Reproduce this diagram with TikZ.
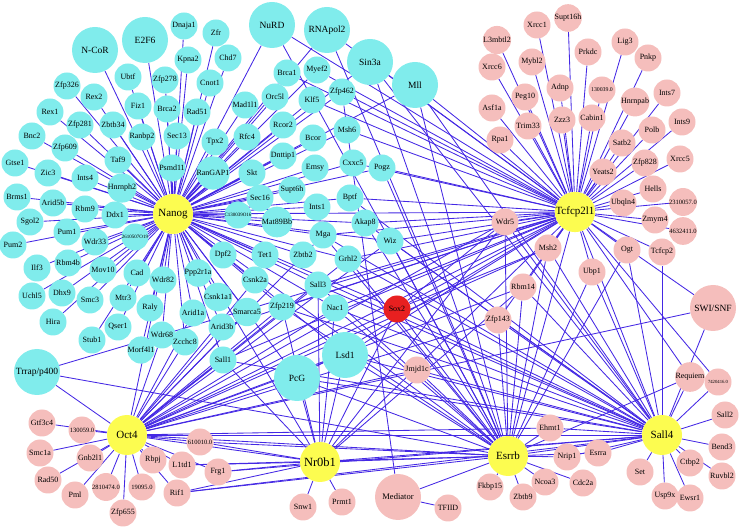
\documentclass[tikz,border=0pt]{standalone}
\usepackage{fontspec}
\setmainfont{Liberation Serif}
\usepackage{tikz}
\usetikzlibrary{backgrounds}

\definecolor{nfill}{RGB}{128,236,236}
\definecolor{pfill}{RGB}{245,190,188}
\definecolor{hfill}{RGB}{252,252,80}
\definecolor{sfill}{RGB}{232,32,32}
\definecolor{edgeblue}{RGB}{68,40,228}

\begin{document}
\begin{tikzpicture}[x=1pt,y=-1pt,
	prot/.style={circle,inner sep=0pt,minimum size=27pt,font=\fontsize{8}{9}\selectfont},
	np/.style={prot,fill=nfill},
	pp/.style={prot,fill=pfill},
	cplx/.style={minimum size=46pt,font=\fontsize{9.5}{10}\selectfont},
	tiny/.style={font=\fontsize{6.5}{7}\selectfont},
	hub/.style={circle,inner sep=0pt,minimum size=40pt,fill=hfill,font=\fontsize{11}{12}\selectfont},
	every edge/.style={draw=edgeblue,line width=0.85pt}]
	\useasboundingbox (0,0) rectangle (740,529);
	% hubs
	\node[hub] (nanog) at (173,214) {Nanog};
	\node[hub] (tcfcp2l1) at (575,212) {Tcfcp2l1};
	\node[hub] (oct4) at (127,435) {Oct4};
	\node[hub,font=\fontsize{12.5}{13}\selectfont] (nr0b1) at (320,462) {Nr0b1};
	\node[hub] (esrrb) at (508,456) {Esrrb};
	\node[hub] (sall4) at (662,435) {Sall4};
	\node[prot,fill=sfill] (sox2) at (397,309) {Sox2};
	% nanog partners
	\node[np,cplx] (ncor) at (95,50) {N-CoR};
	\node[np,cplx] (e2f6) at (145,40) {E2F6};
	\node[np] (dnaja1) at (184,26) {Dnaja1};
	\node[np] (kpna2) at (188,60) {Kpna2};
	\node[np] (zfr) at (216,33) {Zfr};
	\node[np] (chd7) at (228,58) {Chd7};
	\node[np,cplx] (nurd) at (272,25) {NuRD};
	\node[np,cplx] (rnapol2) at (327,30) {RNApol2};
	\node[np,cplx] (sin3a) at (370,62) {Sin3a};
	\node[np,cplx] (mll) at (415,85) {Mll};
	\node[np] (ubtf) at (128,77) {Ubtf};
	\node[np] (zfp278) at (165,80) {Zfp278};
	\node[np] (zfp326) at (67,86) {Zfp326};
	\node[np] (rex2) at (94,97) {Rex2};
	\node[np] (fiz1) at (138,106) {Fiz1};
	\node[np] (brca2) at (167,109) {Brca2};
	\node[np] (rex1) at (50,112) {Rex1};
	\node[np] (zfp281) at (80,125) {Zfp281};
	\node[np] (zbtb34) at (113,125) {Zbtb34};
	\node[np] (ranbp2) at (142,137) {Ranbp2};
	\node[np] (sec13) at (177,136) {Sec13};
	\node[np] (bnc2) at (32,136) {Bnc2};
	\node[np] (zfp609) at (65,148) {Zfp609};
	\node[np] (taf9) at (118,160) {Taf9};
	\node[np] (psmd11) at (172,168) {Psmd11};
	\node[np] (gtse1) at (15,163) {Gtse1};
	\node[np] (zic3) at (48,173) {Zic3};
	\node[np] (ints4) at (85,178) {Ints4};
	\node[np] (cnot1) at (210,83) {Cnot1};
	\node[np] (rad51) at (197,112) {Rad51};
	\node[np] (brca1) at (287,73) {Brca1};
	\node[np] (myef2) at (317,70) {Myef2};
	\node[np] (zfp462) at (342,92) {Zfp462};
	\node[np] (orc5l) at (275,97) {Orc5l};
	\node[np] (klf5) at (312,100) {Klf5};
	\node[np] (mad1l1) at (245,105) {Mad1l1};
	\node[np] (rcor2) at (283,125) {Rcor2};
	\node[np] (msh6) at (347,130) {Msh6};
	\node[np] (tpx2) at (215,142) {Tpx2};
	\node[np] (rfc4) at (247,137) {Rfc4};
	\node[np] (bcor) at (313,138) {Bcor};
	\node[np] (dnttip1) at (283,156) {Dnttip1};
	\node[np] (emsy) at (315,168) {Emsy};
	\node[np] (cxxc5) at (353,163) {Cxxc5};
	\node[np] (rangap1) at (213,173) {RanGAP1};
	\node[np] (skt) at (252,173) {Skt};
	\node[np] (pogz) at (382,168) {Pogz};
	\node[np] (hnrnph2) at (122,188) {Hnrnph2};
	\node[np] (brms1) at (17,197) {Brms1};
	\node[np] (arid5b) at (53,203) {Arid5b};
	\node[np] (rbm9) at (85,209) {Rbm9};
	\node[np] (ddx1) at (115,215) {Ddx1};
	\node[np] (sgol2) at (30,222) {Sgol2};
	\node[np] (pum1) at (67,232) {Pum1};
	\node[np] (wdr33) at (95,242) {Wdr33};
	\node[np,tiny,font=\fontsize{5}{6}\selectfont] (g2610) at (135,237) {2610507O19};
	\node[np] (pum2) at (13,245) {Pum2};
	\node[np] (ilf3) at (37,268) {Ilf3};
	\node[np] (rbm4b) at (68,263) {Rbm4b};
	\node[np] (mov10) at (103,270) {Mov10};
	\node[np] (cad) at (137,273) {Cad};
	\node[np] (wdr82) at (163,280) {Wdr82};
	\node[np] (uchl5) at (32,296) {Uchl5};
	\node[np] (dhx9) at (62,293) {Dhx9};
	\node[np] (smc3) at (90,300) {Smc3};
	\node[np] (mtr3) at (123,298) {Mtr3};
	\node[np] (raly) at (150,308) {Raly};
	\node[np] (hira) at (53,322) {Hira};
	\node[np] (qser1) at (118,327) {Qser1};
	\node[np] (stub1) at (92,340) {Stub1};
	\node[np] (wdr68) at (162,335) {Wdr68};
	\node[np] (morf4l1) at (141,350) {Morf4l1};
	\node[np] (zcchc8) at (185,342) {Zcchc8};
	\node[np] (supt6h) at (292,190) {Supt6h};
	\node[np] (sec16) at (260,198) {Sec16};
	\node[np] (ints1) at (317,207) {Ints1};
	\node[np] (bptf) at (350,198) {Bptf};
	\node[np,font=\fontsize{5}{6}\selectfont] (c1300) at (238,215) {C130039O16};
	\node[np] (mat89bb) at (277,222) {Mat89Bb};
	\node[np] (mga) at (323,235) {Mga};
	\node[np] (akap8) at (365,223) {Akap8};
	\node[np] (wiz) at (390,241) {Wiz};
	\node[np] (dpf2) at (223,255) {Dpf2};
	\node[np] (tet1) at (265,255) {Tet1};
	\node[np] (zbtb2) at (303,255) {Zbtb2};
	\node[np] (grhl2) at (348,259) {Grhl2};
	\node[np] (ppp2r1a) at (198,273) {Ppp2r1a};
	\node[np] (csnk2a) at (255,280) {Csnk2a};
	\node[np] (sall3) at (318,285) {Sall3};
	\node[np] (csnk1a1) at (218,297) {Csnk1a1};
	\node[np] (arid1a) at (193,313) {Arid1a};
	\node[np] (smarca5) at (247,312) {Smarca5};
	\node[np] (zfp219) at (282,307) {Zfp219};
	\node[np] (nac1) at (335,308) {Nac1};
	\node[np] (arid3b) at (222,327) {Arid3b};
	\node[np] (sall1) at (223,360) {Sall1};
	\node[np,cplx] (pcg) at (297,378) {PcG};
	\node[np,cplx] (lsd1) at (345,355) {Lsd1};
	\node[np,cplx] (trrap) at (37,372) {Trrap/p400};
	% tcfcp2l1 partners
	\node[pp] (xrcc1) at (537,25) {Xrcc1};
	\node[pp] (supt16h) at (568,18) {Supt16h};
	\node[pp] (l3mbtl2) at (497,40) {L3mbtl2};
	\node[pp] (mybl2) at (532,62) {Mybl2};
	\node[pp] (xrcc6) at (492,67) {Xrcc6};
	\node[pp] (peg10) at (525,97) {Peg10};
	\node[pp] (asf1a) at (492,108) {Asf1a};
	\node[pp] (trim33) at (528,126) {Trim33};
	\node[pp] (rpa1) at (500,140) {Rpa1};
	\node[pp] (lig3) at (625,42) {Lig3};
	\node[pp] (prkdc) at (588,52) {Prkdc};
	\node[pp] (pnkp) at (648,58) {Pnkp};
	\node[pp] (adnp) at (560,88) {Adnp};
	\node[pp,font=\fontsize{5.8}{6}\selectfont] (g130039) at (602,90) {130039.0};
	\node[pp] (ints7) at (667,93) {Ints7};
	\node[pp] (hnrnpab) at (635,102) {Hnrnpab};
	\node[pp] (zzz3) at (562,120) {Zzz3};
	\node[pp] (cabin1) at (592,118) {Cabin1};
	\node[pp] (ints9) at (682,122) {Ints9};
	\node[pp] (polb) at (652,130) {Polb};
	\node[pp] (satb2) at (622,143) {Satb2};
	\node[pp] (xrcc5) at (680,159) {Xrcc5};
	\node[pp] (zfp828) at (645,163) {Zfp828};
	\node[pp] (yeats2) at (603,172) {Yeats2};
	\node[pp] (hells) at (653,189) {Hells};
	\node[pp] (ubqln4) at (623,203) {Ubqln4};
	\node[pp,tiny] (g2310057) at (683,202) {2310057.0};
	\node[pp] (zmym4) at (655,220) {Zmym4};
	\node[pp,tiny] (g4632411) at (683,231) {4632411.0};
	\node[pp] (ogt) at (627,250) {Ogt};
	\node[pp] (tcfcp2) at (662,252) {Tcfcp2};
	\node[pp] (ubp1) at (592,272) {Ubp1};
	\node[pp] (msh2) at (548,248) {Msh2};
	\node[pp] (wdr5) at (505,222) {Wdr5};
	\node[pp] (rbm14) at (523,287) {Rbm14};
	\node[pp] (zfp143) at (498,320) {Zfp143};
	\node[pp,cplx] (swisnf) at (713,308) {SWI/SNF};
	% esrrb, sall4, nr0b1 partners
	\node[pp] (jmjd1c) at (417,370) {Jmjd1c};
	\node[pp,cplx,font=\fontsize{8.5}{9}\selectfont] (mediator) at (398,497) {Mediator};
	\node[pp] (tfiid) at (448,508) {TFIID};
	\node[pp] (fkbp15) at (490,487) {Fkbp15};
	\node[pp] (zbtb9) at (523,497) {Zbtb9};
	\node[pp] (ncoa3) at (545,482) {Ncoa3};
	\node[pp] (ehmt1) at (550,428) {Ehmt1};
	\node[pp] (nrip1) at (567,457) {Nrip1};
	\node[pp] (esrra) at (598,453) {Esrra};
	\node[pp] (cdc2a) at (583,483) {Cdc2a};
	\node[pp] (requiem) at (690,377) {Requiem};
	\node[pp,font=\fontsize{4.7}{5}\selectfont] (g7420416) at (718,382) {7420416.0};
	\node[pp] (sall2) at (725,415) {Sall2};
	\node[pp] (bend3) at (722,447) {Bend3};
	\node[pp] (set) at (640,472) {Set};
	\node[pp] (ctbp2) at (690,463) {Ctbp2};
	\node[pp] (ruvbl2) at (722,476) {Ruvbl2};
	\node[pp] (usp9x) at (665,496) {Usp9x};
	\node[pp] (ewsr1) at (690,498) {Ewsr1};
	\node[pp] (snw1) at (303,507) {Snw1};
	\node[pp] (prmt1) at (342,502) {Prmt1};
	% oct4 partners
	\node[pp] (gtf3c4) at (42,423) {Gtf3c4};
	\node[pp,tiny] (g130059) at (82,430) {130059.0};
	\node[pp] (smc1a) at (40,453) {Smc1a};
	\node[pp] (gnb2l1) at (90,458) {Gnb2l1};
	\node[pp] (rad50) at (48,480) {Rad50};
	\node[pp] (pml) at (75,495) {Pml};
	\node[pp,tiny] (g2810474) at (106,487) {2810474.0};
	\node[pp,tiny] (g19095) at (142,487) {19095.0};
	\node[pp] (zfp655) at (123,513) {Zfp655};
	\node[pp] (rbpj) at (153,460) {Rbpj};
	\node[pp] (l1td1) at (182,465) {L1td1};
	\node[pp] (rif1) at (177,493) {Rif1};
	\node[pp,tiny] (g610010) at (200,442) {610010.0};
	\node[pp] (frg1) at (218,472) {Frg1};
	\begin{scope}[on background layer]
    \path
    (nanog) edge (ncor) edge (e2f6) edge (dnaja1) edge (kpna2) edge (zfr) edge (chd7)
    	edge (nurd) edge (rnapol2) edge (sin3a) edge (mll) edge (ubtf) edge (zfp278)
    	edge (zfp326) edge (rex2) edge (fiz1) edge (brca2) edge (rex1) edge (zfp281)
    	edge (zbtb34) edge (ranbp2) edge (sec13) edge (bnc2) edge (zfp609) edge (taf9)
    	edge (psmd11) edge (gtse1) edge (zic3) edge (ints4) edge (cnot1) edge (rad51)
    	edge (brca1) edge (myef2) edge (zfp462) edge (orc5l) edge (klf5) edge (mad1l1)
    	edge (rcor2) edge (msh6) edge (tpx2) edge (rfc4) edge (bcor) edge (dnttip1)
    	edge (emsy) edge (cxxc5) edge (rangap1) edge (skt) edge (pogz) edge (hnrnph2)
    	edge (brms1) edge (arid5b) edge (rbm9) edge (ddx1) edge (sgol2) edge (pum1)
    	edge (wdr33) edge (g2610) edge (pum2) edge (ilf3) edge (rbm4b) edge (mov10)
    	edge (cad) edge (wdr82) edge (uchl5) edge (dhx9) edge (smc3) edge (mtr3)
    	edge (raly) edge (hira) edge (qser1) edge (stub1) edge (wdr68) edge (morf4l1)
    	edge (zcchc8) edge (supt6h) edge (sec16) edge (ints1) edge (bptf) edge (c1300)
    	edge (mat89bb) edge (mga) edge (akap8) edge (wiz) edge (dpf2) edge (tet1)
    	edge (zbtb2) edge (grhl2) edge (ppp2r1a) edge (csnk2a) edge (sall3) edge (csnk1a1)
    	edge (arid1a) edge (smarca5) edge (zfp219) edge (nac1) edge (arid3b) edge (sall1)
    	edge (pcg) edge (lsd1) edge (oct4) edge (sox2) edge (esrrb) edge (sall4)
    	edge (nr0b1) edge (tcfcp2l1)
    (tcfcp2l1) edge (xrcc1) edge (supt16h) edge (l3mbtl2) edge (mybl2) edge (xrcc6)
    	edge (peg10) edge (asf1a) edge (trim33) edge (rpa1) edge (lig3) edge (prkdc)
    	edge (pnkp) edge (adnp) edge (g130039) edge (ints7) edge (hnrnpab) edge (zzz3)
    	edge (cabin1) edge (ints9) edge (polb) edge (satb2) edge (xrcc5) edge (zfp828)
    	edge (yeats2) edge (hells) edge (ubqln4) edge (g2310057) edge (zmym4)
    	edge (g4632411) edge (ogt) edge (tcfcp2) edge (ubp1) edge (msh2) edge (wdr5)
    	edge (rbm14) edge (zfp143) edge (swisnf) edge (requiem) edge (g7420416)
    	edge (nurd) edge (rnapol2) edge (sin3a) edge (mll) edge (brca1) edge (myef2)
    	edge (klf5) edge (zfp462) edge (msh6) edge (cxxc5) edge (pogz) edge (bptf)
    	edge (akap8) edge (wiz) edge (mga) edge (grhl2) edge (sall3) edge (nac1)
    	edge (zfp219) edge (lsd1) edge (pcg) edge (sall1) edge (trrap) edge (arid3b)
    	edge (sox2) edge (oct4) edge (esrrb) edge (sall4) edge (nr0b1)
    (oct4) edge (gtf3c4) edge (g130059) edge (smc1a) edge (gnb2l1) edge (rad50) edge (pml)
    	edge (g2810474) edge (g19095) edge (zfp655) edge (rbpj) edge (l1td1) edge (rif1)
    	edge (g610010) edge (frg1) edge (trrap) edge (zcchc8) edge (arid1a) edge (wdr68)
    	edge (arid3b) edge (sall1) edge (pcg) edge (lsd1) edge (nac1) edge (sall3)
    	edge (zfp219) edge (smarca5) edge (mga) edge (grhl2) edge (wiz) edge (csnk2a)
    	edge (wdr5) edge (msh2) edge (rbm14) edge (zfp143) edge (jmjd1c) edge (ehmt1)
    	edge (swisnf) edge (sox2) edge (nr0b1) edge (esrrb) edge (sall4)
    (nr0b1) edge (snw1) edge (prmt1) edge (sox2) edge (lsd1) edge (pcg) edge (sall1)
    	edge (nac1) edge (sall3) edge (zfp219) edge (l1td1) edge (rif1) edge (frg1)
    	edge (g610010) edge (esrrb) edge (sall4) edge (wdr5) edge (rbm14)
    (esrrb) edge (jmjd1c) edge (mediator) edge (fkbp15) edge (zbtb9) edge (ncoa3)
    	edge (ehmt1) edge (nrip1) edge (esrra) edge (cdc2a) edge (sox2) edge (sall4)
    	edge (lsd1) edge (pcg) edge (sall3) edge (nac1) edge (zfp219) edge (wiz)
    	edge (mga) edge (grhl2) edge (akap8) edge (pogz) edge (sin3a) edge (mll)
    	edge (rnapol2) edge (nurd) edge (ubp1) edge (ogt) edge (rbm14) edge (msh2)
    	edge (wdr5) edge (zfp143) edge (trrap) edge (rif1) edge (l1td1) edge (g610010)
    	edge (requiem)
    (sall4) edge (requiem) edge (g7420416) edge (sall2) edge (bend3) edge (set)
    	edge (ctbp2) edge (ruvbl2) edge (usp9x) edge (ewsr1) edge (ehmt1) edge (nrip1)
    	edge (esrra) edge (sox2) edge (swisnf) edge (tcfcp2) edge (ubp1) edge (ogt)
    	edge (rbm14) edge (msh2) edge (wdr5) edge (zfp143) edge (lsd1) edge (pcg)
    	edge (sall1) edge (sall3) edge (nac1) edge (zfp219) edge (mga) edge (grhl2)
    	edge (wiz) edge (akap8) edge (bptf) edge (mll) edge (sin3a) edge (jmjd1c)
    	edge (frg1) edge (rif1)
    (sox2) edge (wdr5) edge (msh2)
    (mediator) edge (tfiid) edge (zfp462);
	\end{scope}
\end{tikzpicture}
\end{document}
